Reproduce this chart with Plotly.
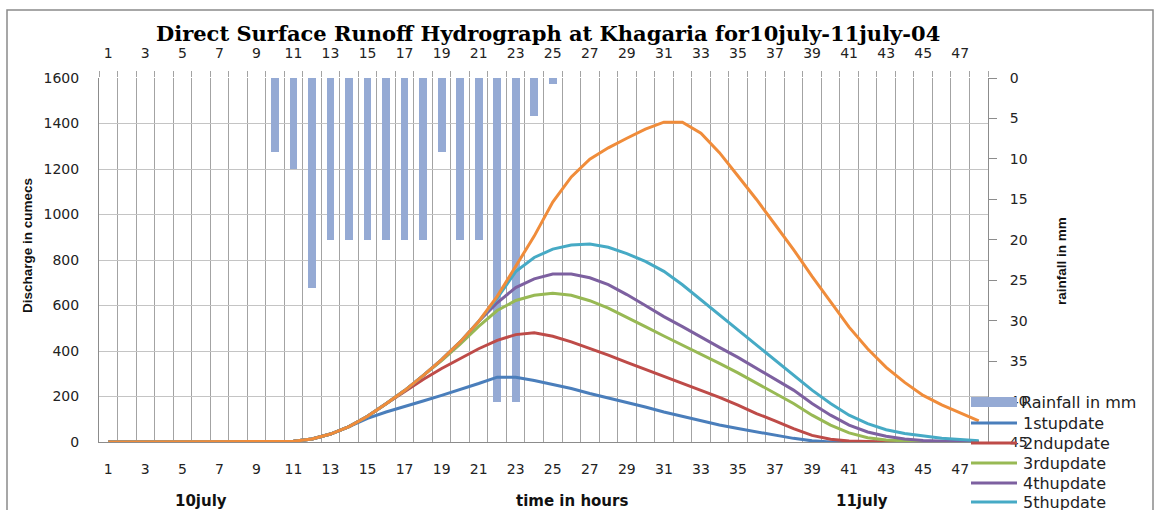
import plotly.graph_objects as go

hours = list(range(1, 49))
tick_hours = list(range(1, 48, 2))

rain_hours = [10, 11, 12, 13, 14, 15, 16, 17, 18, 19, 20, 21, 22, 23, 24, 25]
rainfall = [9.2, 11.2, 26.0, 20.0, 20.0, 20.0, 20.0, 20.0, 20.0, 9.2, 20.0, 20.0, 40.0, 40.0, 4.7, 0.8]

upd1 = [0, 0, 0, 0, 0, 0, 0, 0, 0, 0,
        3, 13, 35, 68, 104, 132, 155, 180, 205, 230, 257, 285, 285, 270, 252, 235, 213, 194, 174, 154,
        132, 112, 92, 75, 59, 44, 29, 16, 5, 0, 0, 0, 0, 0, 0, 0, 0, 0]
upd2 = [0, 0, 0, 0, 0, 0, 0, 0, 0, 0,
        3, 13, 35, 68, 113, 168, 222, 275, 323, 368, 410, 447, 472, 480, 465, 440, 412, 382, 350, 319,
        287, 257, 228, 196, 162, 125, 93, 59, 29, 12, 4, 1, 0, 0, 0, 0, 0, 0]
upd3 = [0, 0, 0, 0, 0, 0, 0, 0, 0, 0,
        3, 13, 35, 68, 113, 168, 226, 292, 358, 430, 508, 578, 622, 645, 654, 645, 621, 588, 549, 507,
        466, 426, 388, 346, 304, 260, 216, 169, 118, 74, 40, 19, 9, 4, 1, 0, 0, 0]
upd4 = [0, 0, 0, 0, 0, 0, 0, 0, 0, 0,
        3, 13, 35, 68, 113, 168, 226, 292, 362, 440, 530, 612, 679, 717, 738, 738, 722, 692, 648, 600,
        551, 507, 460, 416, 372, 324, 275, 228, 169, 118, 74, 44, 25, 13, 7, 3, 1, 0]
upd5 = [0, 0, 0, 0, 0, 0, 0, 0, 0, 0,
        3, 13, 35, 68, 113, 168, 226, 292, 362, 440, 530, 632, 749, 811, 848, 866, 870, 856, 828, 794,
        750, 691, 625, 559, 493, 426, 360, 294, 228, 169, 118, 81, 54, 37, 25, 16, 11, 6]
upd6 = [0, 0, 0, 0, 0, 0, 0, 0, 0, 0,
        3, 13, 35, 68, 113, 168, 226, 292, 362, 440, 530, 640, 770, 905, 1055, 1165, 1243, 1293, 1335, 1375,
        1406, 1406, 1357, 1272, 1169, 1066, 956, 846, 728, 618, 505, 410, 328, 262, 205, 163, 127, 93]

rain_name = "Rainfall in mm"
rain_color = "#95AAD4"
series = [
    ("1stupdate", upd1, "#4A7EBB"),
    ("2ndupdate", upd2, "#BE4B48"),
    ("3rdupdate", upd3, "#98B954"),
    ("4thupdate", upd4, "#7D60A0"),
    ("5thupdate", upd5, "#46AAC5"),
    ("6thupdate", upd6, "#F08C3A"),
]

W, H = 1156, 510
L, R, T, B = 99, 988, 78, 442


def px(x):
    return (x - L) / (R - L)


def py(y):
    return (B - y) / (B - T)


fig = go.Figure()
fig.add_trace(go.Bar(x=rain_hours, y=rainfall, base=0, width=0.42, name=rain_name,
                     marker=dict(color=rain_color, line=dict(width=0)),
                     xaxis="x", yaxis="y", showlegend=False))
for name, vals, col in series:
    fig.add_trace(go.Scatter(x=hours, y=vals, mode="lines", name=name, showlegend=False,
                             line=dict(color=col, width=3), xaxis="x2", yaxis="y2"))

tickfont = dict(family="DejaVu Sans", size=14, color="#222")
gridv = "#A3A3A3"
gridh = "#C4C4C4"
axcol = "#8C8C8C"

fig.update_layout(
    width=W, height=H,
    margin=dict(l=L, r=W - R, t=T, b=H - B, autoexpand=False),
    paper_bgcolor="white", plot_bgcolor="white",
    showlegend=False,
    bargap=0,
    xaxis=dict(side="top", range=[0.5, 48.5], tickmode="array", tickvals=tick_hours,
               ticktext=[str(v) for v in tick_hours], ticks="", showgrid=False,
               minor=dict(tickmode="linear", tick0=0.5, dtick=1, showgrid=True, gridcolor=gridv,
                          gridwidth=1, ticks="outside", ticklen=6, tickcolor=gridv),
               showline=False, zeroline=False, tickfont=tickfont, ticklabelstandoff=16,
               anchor="y", automargin=False),
    yaxis=dict(side="right", range=[45, 0], tickmode="linear", tick0=0, dtick=5,
               ticks="outside", ticklen=8, tickcolor=axcol, showgrid=False, zeroline=False,
               showline=True, linecolor=axcol, linewidth=1, tickfont=tickfont,
               ticklabelstandoff=10, anchor="x", automargin=False),
    xaxis2=dict(overlaying="x", side="bottom", range=[0.5, 48.5], tickmode="array",
                tickvals=tick_hours, ticktext=[str(v) for v in tick_hours], ticks="",
                showgrid=False, zeroline=False, showline=True, linecolor=axcol, linewidth=1,
                tickfont=tickfont, ticklabelstandoff=14, anchor="y2", automargin=False),
    yaxis2=dict(overlaying="y", side="left", range=[0, 1600], tickmode="linear", tick0=0, dtick=200,
                ticks="", showgrid=True, gridcolor=gridh, gridwidth=1, zeroline=False,
                showline=True, linecolor=axcol, linewidth=1, tickfont=tickfont,
                ticklabelstandoff=16, anchor="x2", automargin=False),
)

ann_bold = dict(family="DejaVu Sans", size=15, color="#111")
annotations = [
    dict(text="<b>Direct Surface Runoff Hydrograph at Khagaria for10july-11july-04</b>",
         x=px(548), y=py(33), font=dict(family="DejaVu Serif", size=21, color="#000")),
    dict(text="<b>Discharge in cumecs</b>", x=px(27), y=py(246), textangle=-90,
         font=dict(family="Liberation Sans", size=13.5, color="#111")),
    dict(text="<b>rainfall in mm</b>", x=px(1061), y=py(261), textangle=-90,
         font=dict(family="Liberation Sans", size=13.5, color="#111")),
    dict(text="<b>10july</b>", x=px(201), y=py(501), font=ann_bold),
    dict(text="<b>time in hours</b>", x=px(572), y=py(501), font=ann_bold),
    dict(text="<b>11july</b>", x=px(862), y=py(501), font=ann_bold),
]
for a in annotations:
    a.update(xanchor="center")

# legend drawn by hand (the reference legend is clipped at the bottom of the chart)
leg_font = dict(family="DejaVu Sans", size=16, color="#222")
leg_x0, leg_x1, leg_tx = 971, 1017, 1019
leg_ys = [402, 423, 443, 463, 483, 502]
shapes = []
shapes.append(dict(type="rect", xref="paper", yref="paper",
                   x0=px(leg_x0), x1=px(leg_x1), y0=py(leg_ys[0] + 5), y1=py(leg_ys[0] - 5),
                   fillcolor=rain_color, line=dict(width=0)))
annotations.append(dict(text=rain_name, x=px(leg_tx), y=py(leg_ys[0]), xanchor="left", font=leg_font))
for (name, vals, col), yy in zip(series[:5], leg_ys[1:]):
    shapes.append(dict(type="line", xref="paper", yref="paper",
                       x0=px(leg_x0), x1=px(leg_x1), y0=py(yy), y1=py(yy),
                       line=dict(color=col, width=3)))
    annotations.append(dict(text=name, x=px(leg_tx + 2), y=py(yy), xanchor="left", font=leg_font))

for a in annotations:
    a.update(xref="paper", yref="paper", showarrow=False, yanchor="middle")

shapes.append(dict(type="rect", xref="paper", yref="paper",
                   x0=px(7), x1=px(1153), y0=py(10), y1=py(530),
                   line=dict(color="#8A8A8A", width=1.5), fillcolor="rgba(0,0,0,0)", layer="below"))
fig.update_layout(annotations=annotations, shapes=shapes)

fig.write_html("out.html")
